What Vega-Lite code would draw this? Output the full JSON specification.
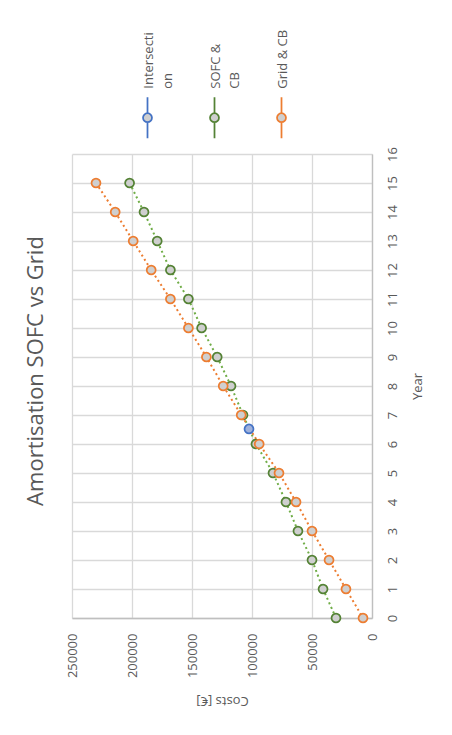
{
  "$schema": "https://vega.github.io/schema/vega-lite/v6.json",
  "width": 300,
  "height": 464,
  "autosize": {"type": "none"},
  "padding": {"left": 72, "top": 154, "right": 80, "bottom": 117},
  "background": "white",
  "config": {
    "font": "Open Sans",
    "view": {"stroke": null},
    "style": {
      "guide-label": {"angle": -90, "dx": 29, "dy": -5, "lineHeight": 19}
    },
    "axis": {
      "domainColor": "#bfbfbf",
      "domainWidth": 1.3,
      "gridColor": "#d9d9d9",
      "gridWidth": 1.3,
      "ticks": false,
      "tickSize": 0,
      "labelColor": "#595959",
      "labelFontSize": 13,
      "titleColor": "#595959",
      "titleFontSize": 13,
      "titleFontWeight": "normal"
    }
  },
  "title": {
    "text": "Amortisation  SOFC vs Grid",
    "orient": "left",
    "anchor": "middle",
    "fontSize": 22,
    "fontWeight": "normal",
    "color": "#595959",
    "offset": 18,
    "dx": 15
  },
  "data": {
    "values": [
      {"series": "SOFC & CB", "year": 0, "cost": 30000},
      {"series": "SOFC & CB", "year": 1, "cost": 40800},
      {"series": "SOFC & CB", "year": 2, "cost": 50000},
      {"series": "SOFC & CB", "year": 3, "cost": 61700},
      {"series": "SOFC & CB", "year": 4, "cost": 71700},
      {"series": "SOFC & CB", "year": 5, "cost": 82500},
      {"series": "SOFC & CB", "year": 6, "cost": 96700},
      {"series": "SOFC & CB", "year": 7, "cost": 107500},
      {"series": "SOFC & CB", "year": 8, "cost": 117500},
      {"series": "SOFC & CB", "year": 9, "cost": 129000},
      {"series": "SOFC & CB", "year": 10, "cost": 142000},
      {"series": "SOFC & CB", "year": 11, "cost": 153000},
      {"series": "SOFC & CB", "year": 12, "cost": 168000},
      {"series": "SOFC & CB", "year": 13, "cost": 179000},
      {"series": "SOFC & CB", "year": 14, "cost": 190000},
      {"series": "SOFC & CB", "year": 15, "cost": 202000},
      {"series": "Grid & CB", "year": 0, "cost": 7500},
      {"series": "Grid & CB", "year": 1, "cost": 21700},
      {"series": "Grid & CB", "year": 2, "cost": 35800},
      {"series": "Grid & CB", "year": 3, "cost": 50000},
      {"series": "Grid & CB", "year": 4, "cost": 63300},
      {"series": "Grid & CB", "year": 5, "cost": 77500},
      {"series": "Grid & CB", "year": 6, "cost": 94000},
      {"series": "Grid & CB", "year": 7, "cost": 109000},
      {"series": "Grid & CB", "year": 8, "cost": 124000},
      {"series": "Grid & CB", "year": 9, "cost": 138000},
      {"series": "Grid & CB", "year": 10, "cost": 153000},
      {"series": "Grid & CB", "year": 11, "cost": 168000},
      {"series": "Grid & CB", "year": 12, "cost": 184000},
      {"series": "Grid & CB", "year": 13, "cost": 199000},
      {"series": "Grid & CB", "year": 14, "cost": 214000},
      {"series": "Grid & CB", "year": 15, "cost": 230000},
      {"series": "Intersection", "year": 6.52, "cost": 102500}
    ]
  },
  "encoding": {
    "x": {
      "field": "cost",
      "type": "quantitative",
      "scale": {"domain": [0, 250000], "reverse": true, "nice": false},
      "axis": {
        "orient": "bottom",
        "values": [0, 50000, 100000, 150000, 200000, 250000],
        "format": "d",
        "grid": true,
        "labelAngle": -90,
        "labelAlign": "right",
        "labelBaseline": "middle",
        "labelPadding": 44,
        "labelOffset": 5,
        "title": "Costs [€]",
        "titleAngle": 180,
        "titleBaseline": "bottom",
        "titlePadding": 16
      }
    },
    "y": {
      "field": "year",
      "type": "quantitative",
      "scale": {"domain": [0, 16], "nice": false},
      "axis": {
        "orient": "right",
        "values": [0, 1, 2, 3, 4, 5, 6, 7, 8, 9, 10, 11, 12, 13, 14, 15, 16],
        "grid": true,
        "labelAngle": -90,
        "labelAlign": "center",
        "labelBaseline": "top",
        "labelPadding": 19,
        "labelOffset": 29,
        "title": "Year",
        "titleAngle": -90,
        "titleBaseline": "top",
        "titlePadding": 12
      }
    }
  },
  "layer": [
    {
      "transform": [{"filter": "datum.series != 'Intersection'"}],
      "mark": {"type": "line", "strokeDash": [2, 3], "strokeWidth": 2},
      "encoding": {
        "color": {
          "field": "series",
          "type": "nominal",
          "scale": {"domain": ["SOFC & CB", "Grid & CB"], "range": ["#70AD47", "#ED7D31"]},
          "legend": null
        }
      }
    },
    {
      "mark": {"type": "point", "filled": true, "size": 80, "strokeWidth": 1.75, "opacity": 1},
      "encoding": {
        "fill": {
          "condition": {"test": "datum.series == 'Intersection'", "value": "#9FB1DB"},
          "value": "#CFCFCF"
        },
        "stroke": {
          "field": "series",
          "type": "nominal",
          "scale": {"domain": ["Intersection", "SOFC & CB", "Grid & CB"], "range": ["#4472C4", "#548235", "#ED7D31"]},
          "legend": {
            "title": null,
            "orient": "none",
            "legendX": 69,
            "legendY": -43,
            "direction": "horizontal",
            "columns": 3,
            "columnPadding": 30,
            "symbolType": "M0,-4.6V-1M0,1V4.6M-1,0A1,1,0,1,1,1,0A1,1,0,1,1,-1,0Z",
            "symbolSize": 80,
            "symbolStrokeWidth": 1.75,
            "labelFontSize": 13,
            "labelColor": "#595959",
            "labelAlign": "left",
            "labelBaseline": "alphabetic",
            "labelExpr": "datum.label == 'Intersection' ? ['Intersecti', 'on'] : datum.label == 'SOFC & CB' ? ['SOFC &', 'CB'] : datum.label",
            "encode": {
              "symbols": {
                "fill": {"condition": {"test": "datum.value == 'Intersection'", "value": "#9FB1DB"}, "value": "#CFCFCF"}
              }
            }
          }
        }
      }
    }
  ]
}
